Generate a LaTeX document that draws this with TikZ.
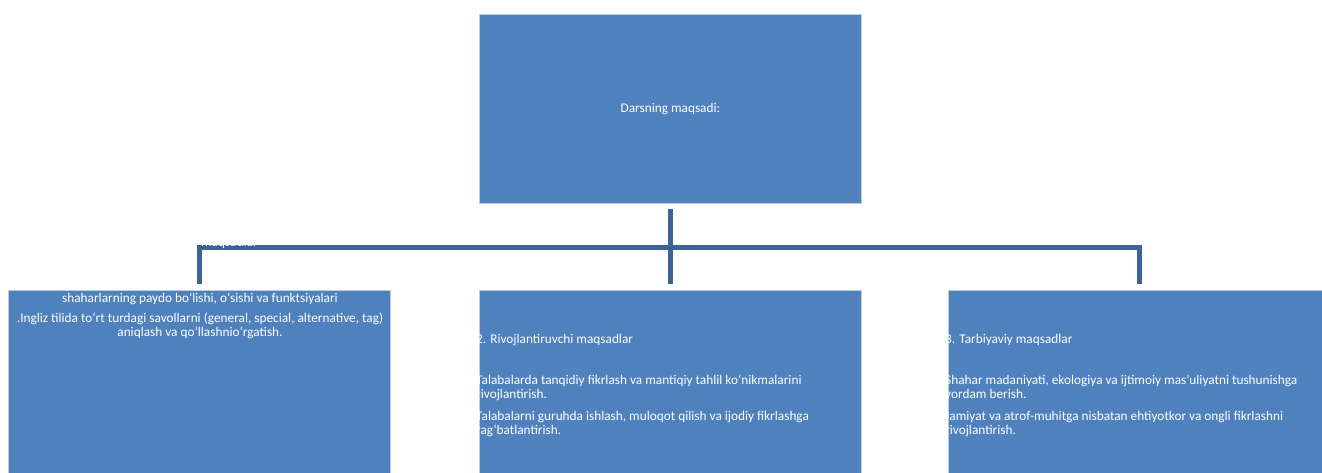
\documentclass[tikz,border=0pt]{standalone}
\usepackage{fontspec}
\setmainfont{Carlito}
\definecolor{boxfill}{RGB}{79,129,189}
\definecolor{boxedge}{RGB}{185,205,229}
\definecolor{connc}{RGB}{60,99,150}
\begin{document}
\begin{tikzpicture}[x=1pt,y=-1pt,
  box/.style={draw=boxedge,line width=0.8pt,fill=boxfill,minimum width=382pt,minimum height=189pt,inner sep=0pt,anchor=north west},
  conn/.style={draw=connc,line width=5pt,line join=miter},
  txt/.style={text=white,font=\fontsize{13.3}{14}\selectfont,inner sep=0pt}]
\useasboundingbox (0,0) rectangle (1322,473);
\clip (0,0) rectangle (1322,473);
\node[box,txt] (top) at (479,14) {Darsning maqsadi:};
\node[box] (left) at (8,290) {};
\node[box] (mid) at (479,290) {};
\node[box] (right) at (948,290) {};
\coordinate (bus) at (670,247);
\draw[conn] ([yshift=-5pt]top.south) -- ([yshift=6pt]mid.north);
\draw[conn] ([yshift=6pt]left.north) |- (bus) -| ([yshift=6pt]right.north);
\node[txt,anchor=base west] (hid) at (201,247) {maqsadlar};
\node[txt,align=center,anchor=base] (l1) at (200,302) {shaharlarning paydo bo‘lishi, o‘sishi va funktsiyalari};
\node[txt,align=center,anchor=base] (l2) at (200,336) {.Ingliz tilida to‘rt turdagi savollarni (general, special, alternative, tag)\\aniqlash va qo‘llashnio‘rgatish.};
\begin{scope}
\clip (mid.north west) rectangle (mid.south east);
\node[txt,anchor=base west] (m1) at (476,343) {2. Rivojlantiruvchi maqsadlar};
\node[txt,align=left,anchor=base west] (m2) at (476,398) {Talabalarda tanqidiy fikrlash va mantiqiy tahlil ko‘nikmalarini\\rivojlantirish.};
\node[txt,align=left,anchor=base west] (m3) at (476,434) {Talabalarni guruhda ishlash, muloqot qilish va ijodiy fikrlashga\\rag‘batlantirish.};
\end{scope}
\begin{scope}
\clip (right.north west) rectangle (right.south east);
\node[txt,anchor=base west] (r1) at (945,343) {3. Tarbiyaviy maqsadlar};
\node[txt,align=left,anchor=base west] (r2) at (945,398) {Shahar madaniyati, ekologiya va ijtimoiy mas’uliyatni tushunishga\\yordam berish.};
\node[txt,align=left,anchor=base west] (r3) at (945,434) {Jamiyat va atrof-muhitga nisbatan ehtiyotkor va ongli fikrlashni\\rivojlantirish.};
\end{scope}
\end{tikzpicture}
\end{document}
